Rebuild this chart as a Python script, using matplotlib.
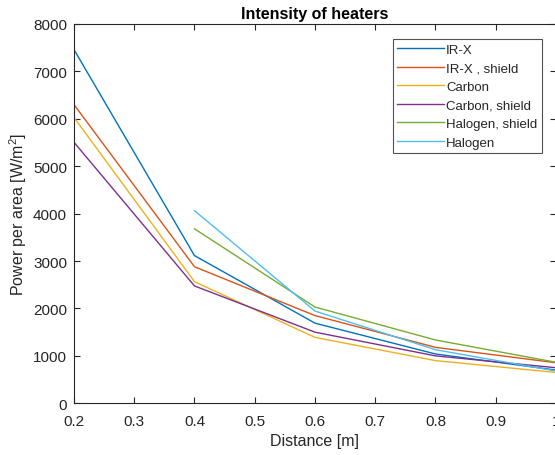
import matplotlib
matplotlib.use('Agg')
import matplotlib.pyplot as plt

# distances [m]
distance = [0.2, 0.4, 0.6, 0.8, 1.0]
distance_halogen = [0.4, 0.6, 0.8, 1.0]

# power per area [W/m^2]
irx = [7460, 3115, 1690, 1040, 700]
irx_shield = [6300, 2880, 1850, 1180, 855]
carbon = [6030, 2565, 1390, 900, 650]
carbon_shield = [5505, 2475, 1500, 1000, 750]
halogen_shield = [3680, 2030, 1335, 865]
halogen = [4063, 1945, 1130, 680]

labels = ['IR-X', 'IR-X , shield', 'Carbon', 'Carbon, shield', 'Halogen, shield', 'Halogen']
colors = ['#0072BD', '#D95319', '#EDB120', '#7E2F8E', '#77AC30', '#4DBEEE']

plt.rcParams['font.family'] = ['Liberation Sans', 'DejaVu Sans']
plt.rcParams['mathtext.fontset'] = 'custom'
plt.rcParams['mathtext.rm'] = 'Liberation Sans'
grey = '#262626'

fig = plt.figure(figsize=(5.55, 4.56), dpi=100)
ax = fig.add_axes([0.1333, 0.1134, 0.8685, 0.8318])

series = [
    (distance, irx),
    (distance, irx_shield),
    (distance, carbon),
    (distance, carbon_shield),
    (distance_halogen, halogen_shield),
    (distance_halogen, halogen),
]
for (x, y), lab, col in zip(series, labels, colors):
    ax.plot(x, y, color=col, linewidth=1.0, label=lab)

ax.set_xlim(0.2, 1.0)
ax.set_ylim(0, 8000)
ax.set_xticks([0.2, 0.3, 0.4, 0.5, 0.6, 0.7, 0.8, 0.9, 1.0])
ax.set_xticklabels(['0.2', '0.3', '0.4', '0.5', '0.6', '0.7', '0.8', '0.9', '1'])
ax.set_yticks(range(0, 8001, 1000))
ax.tick_params(direction='in', top=True, right=True, length=4.5, width=0.8,
               colors=grey, labelsize=11)
ax.tick_params(axis='x', pad=7.5)
ax.tick_params(axis='y', pad=5)
for s in ax.spines.values():
    s.set_color(grey)
    s.set_linewidth(0.8)

ax.set_title('Intensity of heaters', fontsize=11.5, fontweight='bold', color='black', pad=4)
ax.set_xlabel('Distance [m]', fontsize=11.5, color=grey, labelpad=4)
ax.set_ylabel('Power per area [W/m$\\mathregular{^2}$]', fontsize=11.5, color=grey, labelpad=3)

leg = ax.legend(loc='upper right', bbox_to_anchor=(0.971, 0.9605), borderaxespad=0,
                fontsize=9.5, handlelength=3.5, handletextpad=0.2, labelspacing=0.48,
                frameon=True, fancybox=False, borderpad=0.35)
leg.get_frame().set_edgecolor(grey)
leg.get_frame().set_linewidth(0.8)
for t in leg.get_texts():
    t.set_color(grey)

fig.savefig('out.png', dpi=100)
